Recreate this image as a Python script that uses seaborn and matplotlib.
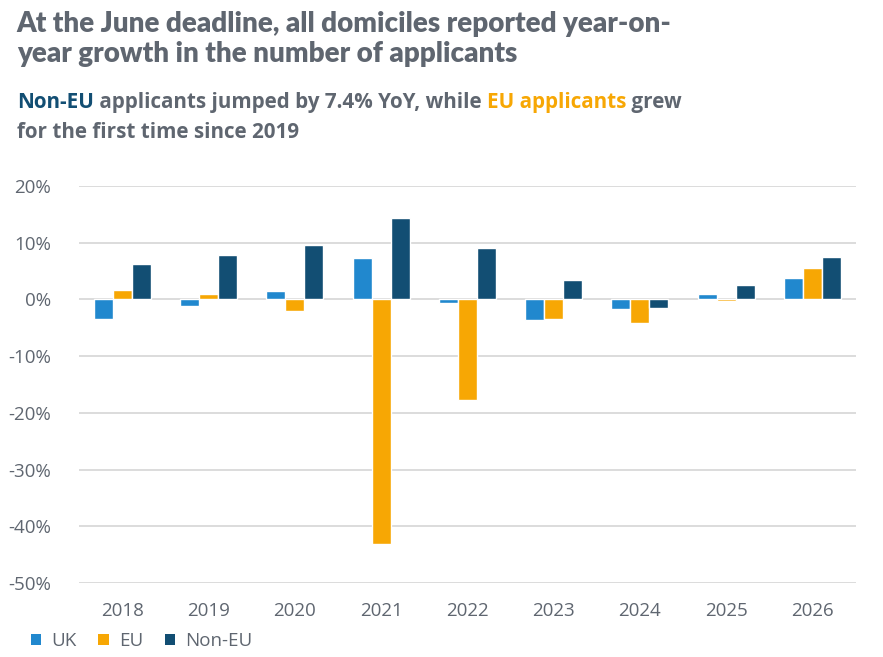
import matplotlib
matplotlib.use("Agg")
import matplotlib.pyplot as plt
import seaborn as sns
import pandas as pd
from matplotlib.patches import Patch
from matplotlib.ticker import FuncFormatter

years = ["2018", "2019", "2020", "2021", "2022", "2023", "2024", "2025", "2026"]
uk = [-3.5, -1.2, 1.4, 7.3, -0.6, -3.7, -1.7, 0.9, 3.7]
eu = [1.6, 0.9, -2.1, -43.1, -17.8, -3.5, -4.2, -0.3, 5.5]
non_eu = [6.3, 7.9, 9.5, 14.4, 9.1, 3.4, -1.6, 2.6, 7.4]
series = ["UK", "EU", "Non-EU"]
colors = ["#2188CE", "#F7A704", "#124E73"]
yticks = [20, 10, 0, -10, -20, -30, -40, -50]

df = pd.DataFrame({
    "year": years * 3,
    "value": uk + eu + non_eu,
    "domicile": [s for s in series for _ in years],
})

sns.set_theme(style="white")
plt.rcParams["font.family"] = ["Open Sans", "DejaVu Sans"]

grey = "#5f6670"
fig = plt.figure(figsize=(8.83, 6.57), dpi=100)
ax = fig.add_axes([0.0895, 0.1126, 0.8795, 0.6044])

sns.barplot(data=df, x="year", y="value", hue="domicile", order=years,
            hue_order=series, palette=colors, width=0.66, saturation=1,
            ax=ax, legend=False, zorder=3)

ax.set_ylim(-50, 20)
ax.set_yticks(yticks)
ax.yaxis.set_major_formatter(FuncFormatter(lambda v, p: f"{int(v)}%"))
ax.set_xlim(-0.5, len(years) - 0.5)
ax.grid(axis="y", color="#d9d9d9", linewidth=1.3, zorder=0)
ax.set_axisbelow(True)
for s in ax.spines.values():
    s.set_visible(False)
ax.set_xlabel("")
ax.set_ylabel("")
ax.tick_params(axis="y", length=0, pad=20, labelsize=13.5, labelcolor=grey)
ax.tick_params(axis="x", length=0, pad=14, labelsize=13.5, labelcolor=grey)

# Title
fig.text(0.019, 0.984, "At the June deadline, all domiciles reported year-on-\nyear growth in the number of applicants",
         ha="left", va="top", fontsize=20, fontweight="heavy", color=grey,
         family=["Lato", "DejaVu Sans"], linespacing=1.22)

# Subtitle with coloured parts
sub_font = dict(fontsize=14.9, fontweight="bold", family=["Open Sans", "DejaVu Sans"])
t1 = fig.text(0.019, 0.835, "Non-EU", color="#124E73", ha="left", va="baseline", **sub_font)
t2 = ax.annotate(" applicants jumped by 7.4% YoY, while ", xy=(1, 0), xycoords=t1,
                 va="bottom", ha="left", color=grey, annotation_clip=False, **sub_font)
t3 = ax.annotate("EU applicants", xy=(1, 0), xycoords=t2,
                 va="bottom", ha="left", color="#F7A704", annotation_clip=False, **sub_font)
t4 = ax.annotate(" grew", xy=(1, 0), xycoords=t3,
                 va="bottom", ha="left", color=grey, annotation_clip=False, **sub_font)
fig.text(0.019, 0.79, "for the first time since 2019", color=grey, ha="left",
         va="baseline", **sub_font)

handles = [Patch(facecolor=c, edgecolor="none", label=s) for s, c in zip(series, colors)]
fig.legend(handles=handles, loc="center left", bbox_to_anchor=(0.035, 0.024), ncol=3,
           frameon=False, fontsize=13.5, handlelength=0.55, handleheight=0.55,
           handletextpad=0.55, columnspacing=1.15, labelcolor=grey, borderpad=0,
           borderaxespad=0)

fig.savefig("out.png", dpi=100)
